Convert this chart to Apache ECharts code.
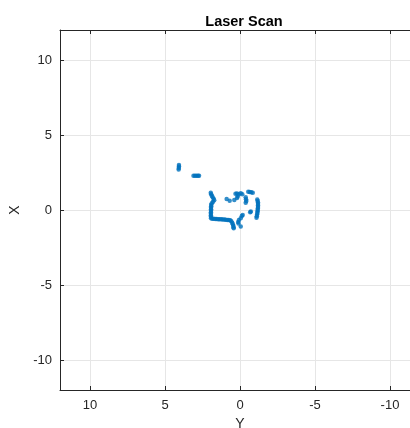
<!DOCTYPE html>
<html><head><meta charset="utf-8">
<script src="https://cdn.jsdelivr.net/npm/echarts@6/dist/echarts.min.js"></script>
<style>html,body{margin:0;padding:0;background:#fff}#c{width:410px;height:428px}</style>
</head><body><div id="c"></div>
<script>
const titleText = 'Laser Scan';
const xAxisName = 'Y';
const yAxisName = 'X';
const tickValues = [-10, -5, 0, 5, 10];
// scan points: horizontal value (Y) and vertical value (X)
const scanY = [4.07,4.07,4.08,4.09, 3.1,3.0,2.9,2.8,2.73,
 1.95,1.92,1.88,1.82,1.76,1.72,1.8,1.88,1.92,1.92,1.93,1.93,1.93,1.94,1.94,1.94,1.94,1.93,
 1.85,1.75,1.65,1.55,1.45,1.35,1.25,1.15,1.05,0.95,0.85,0.75,0.65,0.58,0.52,0.48,0.45,0.43,0.42,
 0.89,0.69,0.38,0.2,0.15,
 0.3,0.2,0.08,-0.05,-0.15,
 -0.55,-0.65,-0.75,-0.85,
 -0.38,-0.4,-0.42,-0.38,
 -1.15,-1.18,-1.2,-1.2,-1.2,-1.2,-1.19,-1.18,-1.17,-1.16,-1.14,-1.12,-1.1,
 -0.72,-0.68,-0.18,-0.12,-0.05,0.07,0.12,0.1,-0.05];
const scanX = [3.0,2.9,2.8,2.7, 2.29,2.29,2.28,2.28,2.28,
 1.15,1.05,0.95,0.85,0.75,0.65,0.55,0.45,0.35,0.25,0.15,0.05,-0.05,-0.15,-0.25,-0.35,-0.45,-0.55,
 -0.58,-0.59,-0.6,-0.6,-0.61,-0.62,-0.62,-0.63,-0.64,-0.65,-0.66,-0.67,-0.68,-0.75,-0.85,-0.95,-1.05,-1.15,-1.22,
 0.73,0.62,0.67,0.8,0.9,
 1.08,1.1,1.05,1.12,1.05,
 1.22,1.2,1.18,1.15,
 0.85,0.72,0.6,0.48,
 0.7,0.6,0.5,0.4,0.3,0.2,0.1,0.0,-0.1,-0.2,-0.3,-0.42,-0.52,
 -0.1,-0.15,-0.33,-0.4,-0.55,-0.67,-0.8,-0.9,-1.1];

const pts = scanY.map((v, i) => [v, scanX[i]]);
const axisCol = '#262626';
const gridCol = '#e6e6e6';
const font = 'Liberation Sans, Arial, sans-serif';
function mkAxis(pos, inverse, labels, name, extra) {
  return Object.assign({
    type: 'value', position: pos, min: -12, max: 12, inverse: inverse,
    axisLine: {show: true, onZero: false, lineStyle: {color: axisCol, width: 1}},
    axisTick: {show: true, inside: true, length: 4, customValues: tickValues, lineStyle: {color: axisCol}},
    axisLabel: {show: labels, customValues: tickValues, color: axisCol, fontSize: 13, fontFamily: font},
    splitLine: {show: labels, lineStyle: {color: gridCol, width: 1}},
    name: labels ? name : '', nameLocation: 'middle',
    nameTextStyle: {color: axisCol, fontSize: 14, fontFamily: font}
  }, extra || {});
}
const chart = echarts.init(document.getElementById('c'), null, {renderer: 'canvas'});
chart.setOption({
  animation: false,
  backgroundColor: '#fff',
  title: {text: titleText, left: 239, textAlign: 'center', top: 9,
    textStyle: {fontSize: 14.5, fontWeight: 'bold', color: '#000', fontFamily: font}},
  grid: {left: 60, top: 30, width: 360, height: 360, containLabel: false, outerBoundsMode: 'none'},
  xAxis: [
    mkAxis('bottom', true, true, xAxisName, {nameGap: 26, axisLabel: {show: true, customValues: tickValues, color: axisCol, fontSize: 13, fontFamily: font, margin: 9}}),
    mkAxis('top', true, false, '')
  ],
  yAxis: [
    mkAxis('left', false, true, yAxisName, {nameGap: 35, nameRotate: 90, axisLabel: {show: true, customValues: tickValues, color: axisCol, fontSize: 13, fontFamily: font, margin: 8}}),
    mkAxis('right', false, false, '')
  ],
  series: [{
    type: 'scatter', data: pts, symbol: 'circle', symbolSize: 4.5,
    itemStyle: {color: '#0072BD'}
  }]
});
</script></body></html>
